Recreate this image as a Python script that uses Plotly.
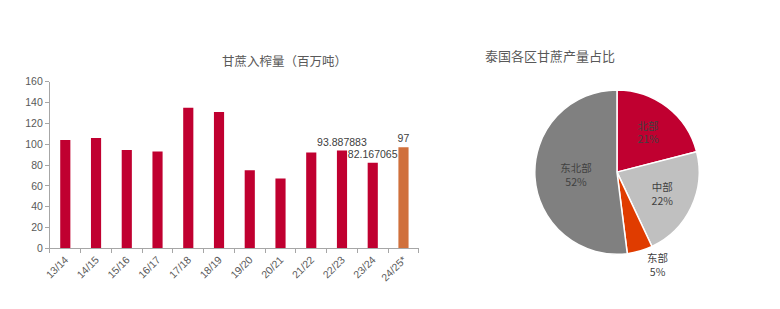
import plotly.graph_objects as go

# Sugarcane crushed per season (million tonnes)
seasons = ["13/14", "14/15", "15/16", "16/17", "17/18", "18/19",
           "19/20", "20/21", "21/22", "22/23", "23/24", "24/25*"]
crush = [104, 106, 94.5, 93, 135, 131, 75, 67, 92, 93.887883, 82.167065, 97]
labelled = [False] * 9 + [True, True, True]

# Regional share of Thai sugarcane output (%)
regions = ["北部", "中部", "东部", "东北部"]
shares = [21, 22, 5, 52]

RED = "#C00030"
ORANGE = "#D0703C"
TXT = "#595959"
CJK = "Noto Sans CJK SC"
LAT = "Liberation Sans"

bar_colors = [ORANGE if s.endswith("*") else RED for s in seasons]
bar_text = [str(v) if show else "" for v, show in zip(crush, labelled)]

fig = go.Figure()

fig.add_trace(go.Bar(
    x=seasons, y=crush,
    marker=dict(color=bar_colors, line=dict(width=0)),
    text=bar_text, textposition="outside", cliponaxis=False,
    constraintext="none",
    textfont=dict(family=LAT, size=10.5, color="#404040"),
    xaxis="x", yaxis="y", showlegend=False, hoverinfo="skip",
))

fig.add_trace(go.Pie(
    labels=regions, values=shares, sort=False, direction="clockwise",
    rotation=0,
    marker=dict(colors=["#C00030", "#C0C0C0", "#E03C00", "#808080"],
                line=dict(color="white", width=1.5)),
    texttemplate="%{label}<br>%{value}%",
    textposition=["inside", "inside", "outside", "inside"],
    insidetextorientation="horizontal",
    textfont=dict(family=CJK, size=10.5, color="#404040"),
    domain=dict(x=[0.685, 0.897], y=[0.177, 0.709]),
    showlegend=False, hoverinfo="skip",
))

fig.update_layout(
    width=780, height=309,
    margin=dict(l=0, r=0, t=0, b=0),
    paper_bgcolor="white", plot_bgcolor="white",
    bargap=0.67,
    xaxis=dict(
        domain=[0.064, 0.537], type="category", automargin=False,
        showline=True, linecolor="#A6A6A6", linewidth=1,
        ticks="outside", tickson="boundaries", ticklen=4, tickcolor="#A6A6A6",
        tickangle=-45, tickfont=dict(family=LAT, size=10.5, color=TXT),
        showgrid=False, zeroline=False,
    ),
    yaxis=dict(
        domain=[0.196, 0.7356], range=[0, 160], dtick=20, automargin=False,
        showline=True, linecolor="#A6A6A6", linewidth=1,
        ticks="outside", ticklen=4, tickcolor="#A6A6A6",
        tickfont=dict(family=LAT, size=10.5, color=TXT),
        showgrid=False, zeroline=False,
    ),
    annotations=[
        dict(text="甘蔗入榨量（百万吨）", x=220 / 780, y=1 - 61 / 309,
             xref="paper", yref="paper", showarrow=False, yanchor="middle",
             font=dict(family=CJK, size=12.5, color=TXT)),
        dict(text="泰国各区甘蔗产量占比", x=617 / 780, y=1 - 55 / 309,
             xref="paper", yref="paper", showarrow=False, yanchor="middle",
             font=dict(family=CJK, size=13, color=TXT)),
    ],
)

fig.write_html("out.html")
